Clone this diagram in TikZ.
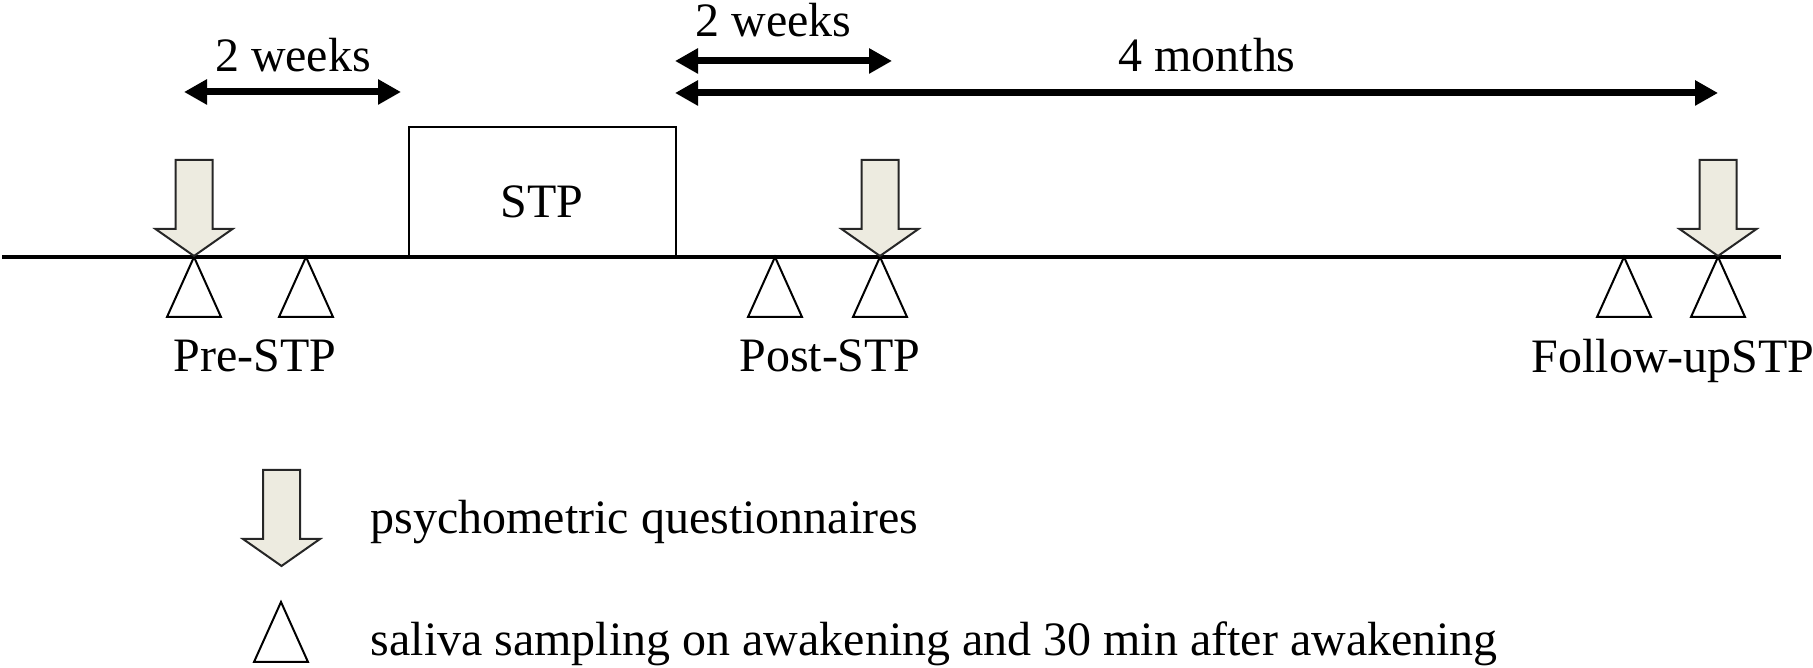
\documentclass[tikz,border=0pt]{standalone}
\usepackage{fontspec}
\setmainfont{Liberation Serif}
\usepackage{tikz}
\usetikzlibrary{arrows.meta}

\definecolor{qfill}{RGB}{237,235,224}

\tikzset{
	span/.style = {{Triangle[length=0.23cm, width=0.24cm]}-{Triangle[length=0.23cm, width=0.24cm]}, line width = 0.07cm},
	lbl/.style = {font=\fontsize{13.65}{16}\selectfont, inner sep=0pt},
	qbox/.style = {fill=qfill, draw=black!85, line width = 0.02cm},
	sbox/.style = {fill=white, draw=black, line width = 0.02cm},
}

% questionnaire arrow, tip at (#1,#2)
\newcommand{\qarrow}[2]{%
	\draw [qbox, shift={(#1,#2)}] (0,0) -- (0.385,0.27) -- (0.185,0.27) -- (0.185,0.96) -- (-0.185,0.96) -- (-0.185,0.27) -- (-0.385,0.27) -- cycle;}
% saliva triangle, apex at (#1,#2)
\newcommand{\saliva}[2]{%
	\draw [sbox, shift={(#1,#2)}] (0,0) -- (0.27,-0.60) -- (-0.27,-0.60) -- cycle;}

\begin{document}
\begin{tikzpicture}

	    \useasboundingbox (0,0) rectangle (18.13,6.68);

		% time line and STP block
		\draw [line width = 0.033cm] (0.02,4.11) -- (17.81,4.11);
		\draw [line width = 0.02cm] (4.09,4.11) rectangle (6.76,5.41);
	    \node [lbl, anchor=base] (stp) at (5.42, 4.50) {STP};

		%%%%%%%%%%%%%%%%%%%%%%%%%%%%%%%%%%%%%%%%%%%%%%%%%%%%%%%%%%%%%%%%%%%%%

		\coordinate (pre-a)  at (1.84, 5.76);
		\coordinate (pre-b)  at (4.01, 5.76);
		\coordinate (post-a) at (6.75, 6.07);
		\coordinate (post-b) at (8.92, 6.07);
		\coordinate (fu-a)   at (6.75, 5.75);
		\coordinate (fu-b)   at (17.18, 5.75);

		\draw [span] (pre-a) -- (pre-b);
		\draw [span] (post-a) -- (post-b);
		\draw [span] (fu-a) -- (fu-b);

	    \node [lbl, anchor=base] (wk1) at (2.93, 5.96) {2 weeks};
	    \node [lbl, anchor=base] (wk2) at (7.735, 6.31) {2 weeks};
	    \node [lbl, anchor=base] (mo4) at (12.07, 5.96) {4 months};

		%%%%%%%%%%%%%%%%%%%%%%%%%%%%%%%%%%%%%%%%%%%%%%%%%%%%%%%%%%%%%%%%%%%%%

		\saliva{1.94}{4.11}
		\saliva{3.06}{4.11}
		\qarrow{1.94}{4.12}
	    \node [lbl, anchor=base] (pre) at (2.55, 2.96) {Pre-STP};

		\saliva{7.75}{4.11}
		\saliva{8.80}{4.11}
		\qarrow{8.80}{4.12}
	    \node [lbl, anchor=base] (post) at (8.30, 2.96) {Post-STP};

		\saliva{16.24}{4.11}
		\saliva{17.18}{4.11}
		\qarrow{17.18}{4.12}
	    \node [lbl, anchor=base] (fu) at (16.73, 2.95) {Follow-upSTP};

		%%%%%%%%%%%%%%%%%%%%%%%%%%%%%%%%%%%%%%%%%%%%%%%%%%%%%%%%%%%%%%%%%%%%%

		\qarrow{2.815}{1.02}
	    \node [lbl, anchor=base west] (key-q) at (3.70, 1.34) {psychometric questionnaires};

		\saliva{2.81}{0.66}
	    \node [lbl, anchor=base west] (key-s) at (3.70, 0.12) {saliva sampling on awakening and 30 min after awakening};

\end{tikzpicture}
\end{document}
